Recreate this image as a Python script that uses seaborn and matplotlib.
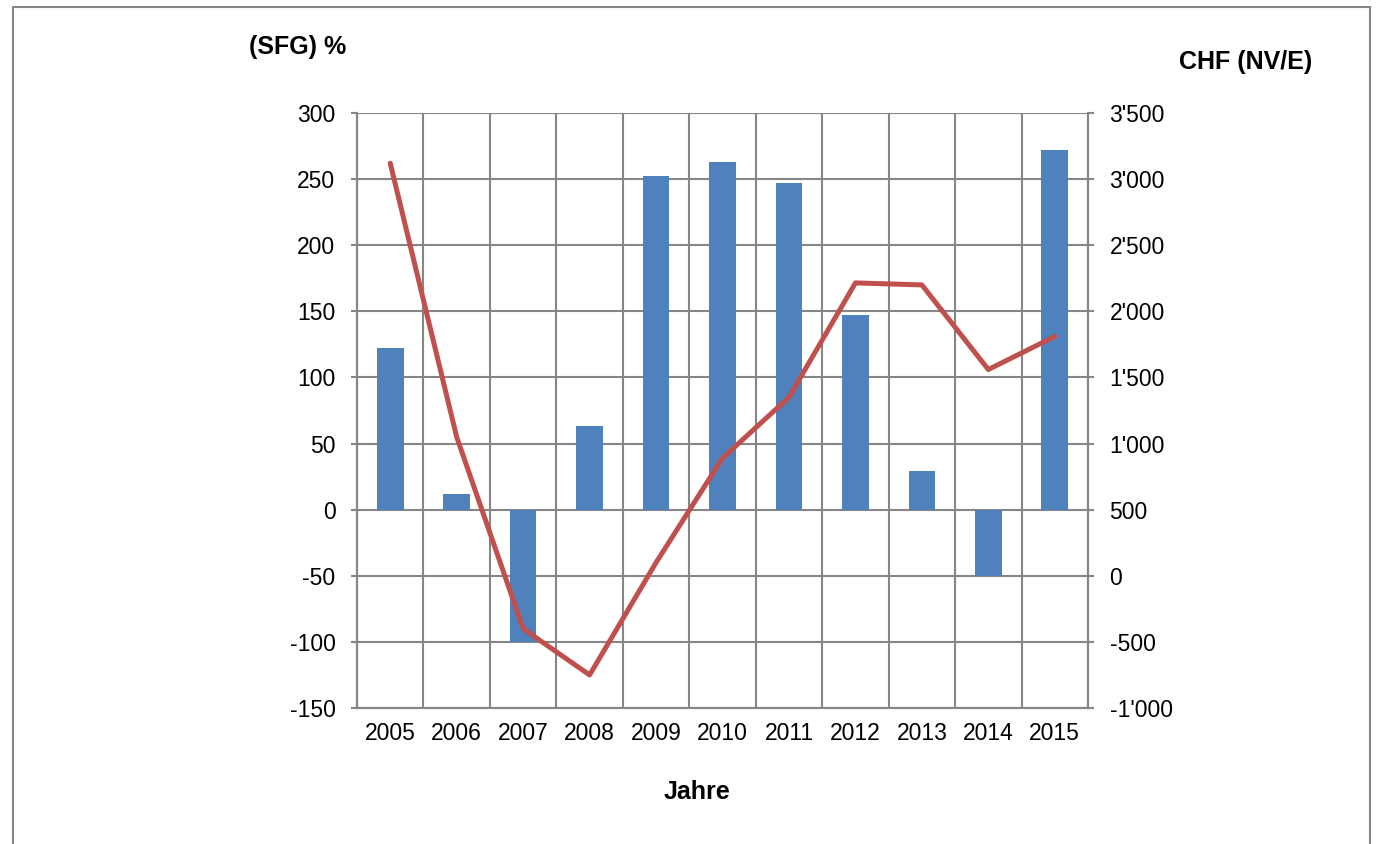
import matplotlib
matplotlib.use("Agg")
import matplotlib.pyplot as plt
import matplotlib.ticker as mticker
from matplotlib.patches import Rectangle
import seaborn as sns
import pandas as pd
import numpy as np

# Data
years = ["2005", "2006", "2007", "2008", "2009", "2010",
         "2011", "2012", "2013", "2014", "2015"]
sfg_pct = [122, 12, -100, 63, 252, 263, 247, 147, 29, -50, 272]
chf_nve = [3120, 1050, -400, -750, 100, 890, 1350, 2215, 2200, 1560, 1810]

left_ticks = [-150, -100, -50, 0, 50, 100, 150, 200, 250, 300]
right_ticks = [-1000, -500, 0, 500, 1000, 1500, 2000, 2500, 3000, 3500]

bar_color = "#4F81BD"
line_color = "#C0504D"
grid_color = "#868686"

sns.set_theme(style="white")
plt.rcParams['font.family'] = ['Liberation Sans', 'DejaVu Sans']
plt.rcParams['axes.unicode_minus'] = False
plt.rcParams['text.color'] = 'black'

df = pd.DataFrame({"Jahr": years, "SFG": sfg_pct, "CHF": chf_nve})
df["pos"] = np.arange(len(df))

fig = plt.figure(figsize=(13.8, 8.44), dpi=100)
ax = fig.add_axes([0.2587, 0.1611, 0.7884 - 0.2587, 0.8661 - 0.1611])

sns.barplot(data=df, x="Jahr", y="SFG", color=bar_color, width=0.4,
            saturation=1, linewidth=0, edgecolor="none", ax=ax, zorder=3)
ax.set_ylim(-150, 300)
ax.set_yticks(left_ticks)
ax.set_xlim(-0.5, len(years) - 0.5)
ax.set_xticks(np.arange(-0.5, len(years), 1), minor=True)
ax.grid(True, which="minor", axis="x", color=grid_color, lw=1.5, zorder=0)
ax.grid(True, which="major", axis="y", color=grid_color, lw=1.5, zorder=0)
ax.set_axisbelow(True)
ax.tick_params(axis="x", which="both", length=0, labelsize=16.5, pad=10)
ax.tick_params(axis="y", length=4.5, width=1.5, color=grid_color,
               labelsize=16.5, pad=11, left=True)
for lab in ax.get_yticklabels() + ax.get_xticklabels():
    lab.set_color("black")
ax.set_xlabel("")
ax.set_ylabel("")
for side in ["left", "bottom", "right", "top"]:
    ax.spines[side].set_color(grid_color)
    ax.spines[side].set_linewidth(1.5)
ax.spines["top"].set_visible(False)

ax2 = ax.twinx()
sns.lineplot(data=df, x="pos", y="CHF", color=line_color, lw=3.6,
             sort=False, ax=ax2, zorder=4)
ax2.set_ylim(-1000, 3500)
ax2.set_yticks(right_ticks)
ax2.yaxis.set_major_formatter(
    mticker.FuncFormatter(lambda v, p: f"{int(v):,}".replace(",", "'")))
ax2.tick_params(axis="y", length=4.5, width=1.5, color=grid_color,
                labelsize=16.5, pad=11, right=True)
for lab in ax2.get_yticklabels():
    lab.set_color("black")
ax2.set_ylabel("")
ax2.set_xlabel("")
for side in ["left", "bottom", "right", "top"]:
    ax2.spines[side].set_color(grid_color)
    ax2.spines[side].set_linewidth(1.5)
ax2.spines["top"].set_visible(False)

# Axis titles
fig.text(298 / 1380, 1 - 47 / 844, "(SFG) %", ha="center", va="center",
         fontsize=18, fontweight="bold", color="black")
fig.text(1246 / 1380, 1 - 62 / 844, "CHF (NV/E)", ha="center", va="center",
         fontsize=18, fontweight="bold", color="black")
fig.text(697 / 1380, 1 - 792 / 844, "Jahre", ha="center", va="center",
         fontsize=18, fontweight="bold", color="black")

# Outer frame (bottom edge cut off like the reference)
fig.patches.append(Rectangle((13 / 1380, -0.05), (1370 - 13) / 1380,
                             1 - 7 / 844 + 0.05, transform=fig.transFigure,
                             fill=False, edgecolor=grid_color, lw=1.5))

fig.savefig("out.png", dpi=100)
